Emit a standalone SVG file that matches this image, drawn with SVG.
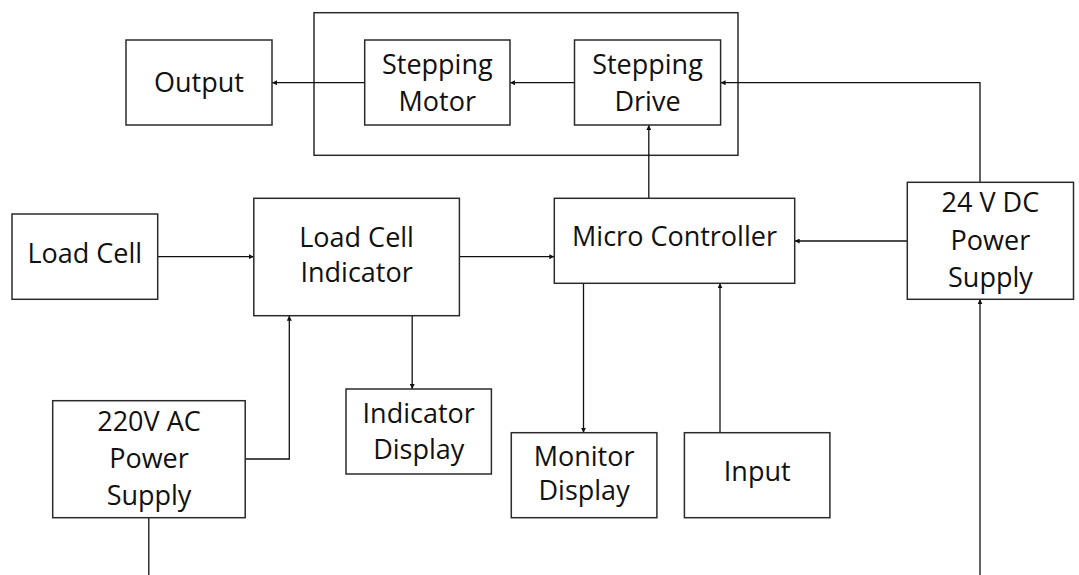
<svg xmlns="http://www.w3.org/2000/svg" width="1079" height="575" viewBox="0 0 1079 575">
<style>
.box{fill:#fff;stroke:#2b2b2b;stroke-width:1.5}
.t{font-family:"Open Sans","Noto Sans",sans-serif;font-size:27px;fill:#111;text-anchor:middle}
.c{fill:none;stroke:#111;stroke-width:1.3}
.a{marker-end:url(#ah)}
</style>
<defs>
<marker id="ah" viewBox="0 0 10 10" refX="10" refY="5" markerWidth="5" markerHeight="5" markerUnits="userSpaceOnUse" orient="auto">
<path d="M0,0 L10,5 L0,10 z" fill="#111"/>
</marker>
</defs>
<rect width="1079" height="575" fill="#fff"/>
<g id="container"><rect class="box" x="314" y="12.7" width="424" height="142.6"/></g>
<g id="connectors">
<path class="c a" d="M364.7,82.7 H272"/>
<path class="c a" d="M574.5,82.7 H510"/>
<path class="c a" d="M980,182.3 V82.7 H720.6"/>
<path class="c a" d="M648.8,198.3 V125"/>
<path class="c a" d="M157.7,256.7 H253.8"/>
<path class="c a" d="M459.4,256.7 H554.3"/>
<path class="c a" d="M907.3,241 H794.7"/>
<path class="c a" d="M245.2,459 H289.3 V315.7"/>
<path class="c a" d="M412.2,315.7 V389"/>
<path class="c a" d="M583.5,283.3 V432.7"/>
<path class="c a" d="M720,432.7 V283.3"/>
<path class="c" d="M148.8,517.7 V575"/>
<path class="c a" d="M980,575 V299.3"/>
</g>
<g id="output"><rect class="box" x="126" y="40" width="146" height="85"/><text class="t" x="199" y="92">Output</text></g>
<g id="stepping-motor"><rect class="box" x="364.7" y="40" width="145.3" height="85"/><text class="t" x="437.3" y="74">Stepping</text><text class="t" x="437.3" y="111">Motor</text></g>
<g id="stepping-drive"><rect class="box" x="574.5" y="40" width="146.1" height="85"/><text class="t" x="647.5" y="74">Stepping</text><text class="t" x="647.5" y="111">Drive</text></g>
<g id="load-cell"><rect class="box" x="12" y="214" width="145.7" height="85.3"/><text class="t" x="84.8" y="263.3">Load Cell</text></g>
<g id="load-cell-indicator"><rect class="box" x="253.8" y="198.3" width="205.6" height="117.4"/><text class="t" x="356.6" y="246.7">Load Cell</text><text class="t" x="356.6" y="281.7">Indicator</text></g>
<g id="micro-controller"><rect class="box" x="554.3" y="198.3" width="240.4" height="85"/><text class="t" x="674.5" y="245.7">Micro Controller</text></g>
<g id="dc-power"><rect class="box" x="907.3" y="182.3" width="166.2" height="117"/><text class="t" x="990.4" y="212.3">24 V DC</text><text class="t" x="990.4" y="250">Power</text><text class="t" x="990.4" y="286.7">Supply</text></g>
<g id="ac-power"><rect class="box" x="52.7" y="400.7" width="192.5" height="117"/><text class="t" x="149" y="431">220V AC</text><text class="t" x="149" y="468.3">Power</text><text class="t" x="149" y="505">Supply</text></g>
<g id="indicator-display"><rect class="box" x="346" y="389" width="145.4" height="85"/><text class="t" x="418.7" y="423.3">Indicator</text><text class="t" x="418.7" y="459">Display</text></g>
<g id="monitor-display"><rect class="box" x="511.3" y="432.7" width="145.6" height="85"/><text class="t" x="584.1" y="466">Monitor</text><text class="t" x="584.1" y="500">Display</text></g>
<g id="input"><rect class="box" x="684.4" y="432.7" width="145.5" height="85"/><text class="t" x="757.2" y="481">Input</text></g>
</svg>
